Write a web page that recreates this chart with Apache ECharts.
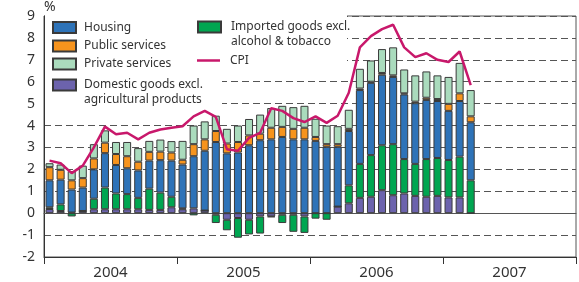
<!DOCTYPE html>
<html>
<head>
<meta charset="utf-8">
<title>CPI contributions</title>
<script src="https://cdn.jsdelivr.net/npm/echarts@6/dist/echarts.min.js"></script>
<style>
  html, body { margin: 0; padding: 0; background: #fff; }
  #myChart { width: 579px; height: 282px; }
</style>
</head>
<body>
<div id="myChart"></div>
<script>
// years on the axis, one bar per month from Jan 2004 to Mar 2007
var years = ['2004', '2005', '2006', '2007'];
var months = [];
years.forEach(function (y) {
  for (var m = 1; m <= 12; m++) months.push(y + '-' + (m < 10 ? '0' + m : m));
});

// contributions, percentage points
var domestic = [0.19, 0.1, 0.03, 0.1, 0.18, 0.18, 0.18, 0.18, 0.18, 0.15, 0.15, 0.27,
  0.18, 0.22, 0.12, -0.07, -0.3, -0.22, -0.3, -0.15, -0.15, -0.07, -0.07, -0.15,
  0, 0, 0.3, 0.45, 0.7, 0.75, 1.05, 0.82, 0.9, 0.79, 0.75, 0.79,
  0.72, 0.72, 0];
var imported = [0.08, 0.3, -0.15, 0, 0.48, 0.99, 0.72, 0.69, 0.52, 0.97, 0.79, 0.48,
  0.04, -0.1, 0, -0.38, -0.48, -0.9, -0.67, -0.78, -0.03, -0.38, -0.78, -0.75,
  -0.25, -0.3, 0, 0.82, 1.55, 1.9, 2.05, 2.33, 1.57, 1.46, 1.72, 1.73,
  1.71, 1.86, 1.5];
var housing = [1.23, 1.13, 1.05, 1.07, 1.34, 1.57, 1.3, 1.18, 1.25, 1.28, 1.48, 1.65,
  2.0, 2.38, 2.73, 3.25, 2.73, 2.77, 3.1, 3.33, 3.37, 3.48, 3.37, 3.37,
  3.3, 3.03, 2.73, 2.48, 3.37, 3.3, 3.22, 3.07, 2.95, 2.77, 2.7, 2.6,
  2.24, 2.54, 2.65];
var publicSvc = [0.6, 0.45, 0.42, 0.43, 0.5, 0.48, 0.5, 0.55, 0.4, 0.4, 0.39, 0.37,
  0.22, 0.55, 0.52, 0.5, 0.45, 0.48, 0.45, 0.3, 0.53, 0.46, 0.48, 0.53,
  0.18, 0.12, 0.12, 0.1, 0.07, 0.05, 0.08, 0.07, 0.05, 0.07, 0.1, 0.09,
  0.32, 0.35, 0.27];
var privateSvc = [0.18, 0.24, 0.42, 0.57, 0.65, 0.56, 0.55, 0.65, 0.62, 0.5, 0.55, 0.52,
  0.86, 0.85, 0.82, 0.7, 0.67, 0.75, 0.75, 0.87, 0.9, 0.96, 0.99, 1.0,
  0.83, 0.85, 0.82, 0.87, 0.9, 0.97, 1.09, 1.28, 1.09, 1.2, 1.2, 1.08,
  1.23, 1.39, 1.2];
var cpi = [2.4, 2.28, 1.83, 2.17, 3.0, 3.95, 3.6, 3.67, 3.37, 3.67, 3.82, 3.9,
  3.97, 4.42, 4.67, 4.4, 2.92, 2.85, 3.44, 3.67, 4.79, 4.67, 4.34, 4.16,
  4.42, 4.12, 4.45, 5.5, 7.57, 8.08, 8.4, 8.6, 7.57, 7.12, 7.3, 7.0,
  6.9, 7.38, 5.84];
var yTicks = { min: -2, max: 9, step: 1 };

var font = 'Noto Sans';
var textColor = '#333';

// one small legend per entry so each sits where it does in the original.
// two-line names get an empty first line so the icon lines up with line one
function legendItem(name, left, top, multiLine, padLeft, isLine) {
  return {
    data: [name],
    orient: 'vertical',
    left: left,
    top: top,
    padding: 0,
    icon: 'rect',
    itemWidth: 23,
    itemHeight: isLine ? 2.5 : 11,
    selectedMode: false,
    formatter: function (n) { return multiLine ? '\n' + n : n; },
    textStyle: {
      fontFamily: font,
      fontSize: 12,
      color: textColor,
      lineHeight: 15,
      padding: [0, 0, 0, padLeft]
    }
  };
}

function barSeries(name, data, color) {
  return {
    name: name,
    type: 'bar',
    stack: 'total',
    xAxisIndex: 0,
    barWidth: 8,
    data: data,
    itemStyle: { color: color, borderColor: '#3a3a3a', borderWidth: 1 }
  };
}

var myChart = echarts.init(document.getElementById('myChart'));
var option = {
  animation: false,
  textStyle: { fontFamily: font },
  grid: {
    left: 44, right: 3, top: 12, bottom: 25,
    show: true, borderColor: '#555', borderWidth: 1
  },
  // white boxes behind the legend hide the dashed grid lines there
  graphic: [
    { type: 'rect', z: 1, shape: { x: 45, y: 13.5, width: 177, height: 93 }, style: { fill: '#fff' } },
    { type: 'rect', z: 1, shape: { x: 190, y: 13.5, width: 157, height: 50 }, style: { fill: '#fff' } }
  ],
  legend: [
    legendItem('Housing', 52, 20, false, 3),
    legendItem('Public services', 52, 38.5, false, 3),
    legendItem('Private services', 52, 56.5, false, 3),
    legendItem('Domestic goods excl.\nagricultural products', 52, 62.5, true, 3),
    legendItem('Imported goods excl.\nalcohol & tobacco', 197, 4.5, true, 5),
    legendItem('CPI', 197, 53, false, 5, true)
  ],
  xAxis: [
    {
      type: 'category',
      data: months,
      position: 'bottom',
      axisLine: { show: true, onZero: true, lineStyle: { color: '#555', width: 1 } },
      axisTick: { show: false },
      axisLabel: { show: false },
      splitLine: { show: false }
    },
    {
      type: 'category',
      data: years,
      position: 'bottom',
      boundaryGap: true,
      axisLine: { show: true, onZero: false, lineStyle: { color: '#333', width: 1 } },
      axisTick: { show: true, length: 7, lineStyle: { color: '#333' } },
      axisLabel: { fontSize: 15, color: textColor, margin: 8 },
      splitLine: { show: false }
    }
  ],
  yAxis: {
    type: 'value',
    min: yTicks.min,
    max: yTicks.max,
    interval: yTicks.step,
    name: '%',
    nameLocation: 'end',
    nameGap: 2,
    nameTextStyle: { fontSize: 14, color: textColor, align: 'left', padding: [0, 0, 0, 0] },
    axisLine: { show: true, lineStyle: { color: '#333' } },
    axisTick: { show: false },
    axisLabel: { fontSize: 14, color: textColor, margin: 9 },
    splitLine: { show: true, lineStyle: { color: '#555', type: [7, 4], width: 1 } }
  },
  series: [
    barSeries('Domestic goods excl.\nagricultural products', domestic, '#6c63ad'),
    barSeries('Imported goods excl.\nalcohol & tobacco', imported, '#00a651'),
    barSeries('Housing', housing, '#2e73b8'),
    barSeries('Public services', publicSvc, '#f7941d'),
    barSeries('Private services', privateSvc, '#aadbbd'),
    {
      name: 'CPI',
      type: 'line',
      xAxisIndex: 0,
      data: cpi,
      symbol: 'none',
      z: 3,
      lineStyle: { color: '#c8186b', width: 2.5 },
      itemStyle: { color: '#c8186b' }
    }
  ]
};
myChart.setOption(option);

window.addEventListener('resize', function () {
  myChart.resize();
});
</script>
</body>
</html>
